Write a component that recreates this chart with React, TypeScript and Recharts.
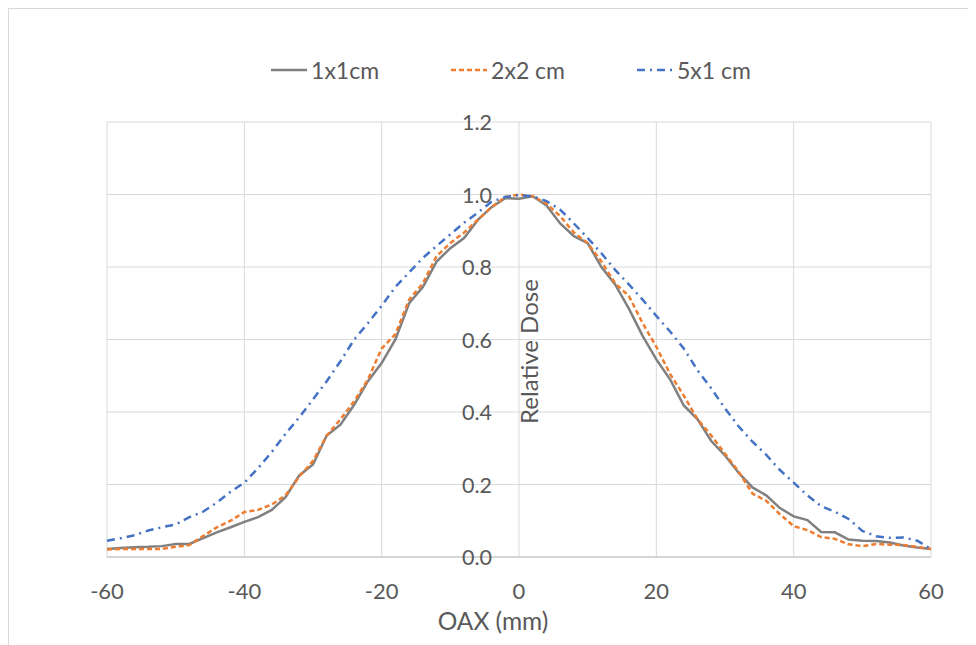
import { LineChart, Line, XAxis, YAxis, CartesianGrid, Legend, Label } from 'recharts';

const oax = [
  -60, -58, -56, -54, -52, -50, -48, -46, -44, -42, -40, -38, -36, -34, -32, -30,
  -28, -26, -24, -22, -20, -18, -16, -14, -12, -10, -8, -6, -4, -2, 0,
  2, 4, 6, 8, 10, 12, 14, 16, 18, 20, 22, 24, 26, 28, 30,
  32, 34, 36, 38, 40, 42, 44, 46, 48, 50, 52, 54, 56, 58, 60,
];

const field1x1 = [
  0.022, 0.025, 0.027, 0.028, 0.03, 0.036, 0.036, 0.052, 0.068, 0.082, 0.097, 0.11, 0.13, 0.165, 0.225, 0.255,
  0.335, 0.365, 0.42, 0.485, 0.535, 0.6, 0.7, 0.745, 0.815, 0.852, 0.88, 0.93, 0.965, 0.99, 0.988,
  0.995, 0.97, 0.92, 0.885, 0.866, 0.8, 0.752, 0.685, 0.61, 0.545, 0.49, 0.418, 0.38, 0.32, 0.28,
  0.232, 0.192, 0.17, 0.135, 0.112, 0.102, 0.069, 0.068, 0.048, 0.045, 0.044, 0.04, 0.032, 0.026, 0.022,
];

const field2x2 = [
  0.021, 0.022, 0.022, 0.022, 0.022, 0.028, 0.033, 0.058, 0.082, 0.1, 0.124, 0.13, 0.145, 0.17, 0.222, 0.265,
  0.335, 0.38, 0.43, 0.49, 0.575, 0.615, 0.71, 0.755, 0.83, 0.866, 0.895, 0.93, 0.965, 0.993, 1.0,
  0.995, 0.975, 0.94, 0.895, 0.866, 0.815, 0.755, 0.72, 0.645, 0.58, 0.505, 0.445, 0.38, 0.335, 0.285,
  0.235, 0.175, 0.155, 0.118, 0.085, 0.074, 0.055, 0.05, 0.035, 0.03, 0.036, 0.034, 0.033, 0.028, 0.022,
];

const field5x1 = [
  0.045, 0.052, 0.06, 0.073, 0.082, 0.09, 0.11, 0.125, 0.15, 0.18, 0.205, 0.245, 0.29, 0.34, 0.385, 0.435,
  0.485, 0.54, 0.6, 0.645, 0.693, 0.745, 0.785, 0.825, 0.858, 0.89, 0.922, 0.95, 0.98, 0.993, 0.998,
  0.995, 0.982, 0.958, 0.92, 0.88, 0.838, 0.792, 0.752, 0.71, 0.665, 0.622, 0.575, 0.515, 0.465, 0.41,
  0.36, 0.318, 0.282, 0.24, 0.205, 0.17, 0.14, 0.125, 0.105, 0.072, 0.057, 0.053, 0.054, 0.045, 0.022,
];

const xTicks = [-60, -40, -20, 0, 20, 40, 60];
const yTicks = [0, 0.2, 0.4, 0.6, 0.8, 1.0, 1.2];

const series = [
  { key: 'a', name: '1x1cm', color: '#808080', dash: undefined as string | undefined },
  { key: 'b', name: '2x2 cm', color: '#ED7D31', dash: '5 3' },
  { key: 'c', name: '5x1 cm', color: '#4472C4', dash: '8 5 2 5' },
];

const data = oax.map((x, i) => ({ x, a: field1x1[i], b: field2x2[i], c: field5x1[i] }));

const W = 967;
const H = 636;
// yaxis is 1px wide (a 0 width axis is not drawn), so left margin is 97
const M = { top: 113, right: 45, left: 97, bottom: 0 };
const Y_W = 1;
const PLOT_W = W - M.left - Y_W - M.right;
const ZERO_X = (PLOT_W * (0 - xTicks[0])) / (xTicks[xTicks.length - 1] - xTicks[0]);
const TEXT = '#595959';
const FONT = "Lato, 'Open Sans', sans-serif";

// tick x arrives at the plot's left edge; shift labels over to the 0 mm line
function YTick(props: any) {
  const { x, y, payload } = props;
  return (
    <text x={x + ZERO_X - 27} y={y} textAnchor="end" dominantBaseline="central" fill={TEXT} fontSize={21.5} fontFamily={FONT}>
      {Number(payload.value).toFixed(1)}
    </text>
  );
}

function XTick(props: any) {
  const { x, y, payload } = props;
  return (
    <text x={x} y={y + 33} textAnchor="middle" dominantBaseline="central" fill={TEXT} fontSize={22} fontFamily={FONT}>
      {payload.value}
    </text>
  );
}

function LegendBox() {
  return (
    <div style={{ display: 'flex', justifyContent: 'center', gap: 72, fontFamily: FONT, fontSize: 23, color: TEXT }}>
      {series.map((s) => (
        <div key={s.key} style={{ display: 'flex', alignItems: 'center' }}>
          <svg width={36} height={10} style={{ marginRight: 4 }}>
            <line x1={0} y1={5} x2={36} y2={5} stroke={s.color} strokeWidth={2.5} strokeDasharray={s.dash} />
          </svg>
          <span>{s.name}</span>
        </div>
      ))}
    </div>
  );
}

export default function App() {
  return (
    <div style={{ width: W, height: H, borderTop: '1px solid #d9d9d9', borderLeft: '1px solid #d9d9d9', fontFamily: FONT }}>
      <LineChart width={W} height={H} data={data} margin={M}>
        <CartesianGrid stroke="#d9d9d9" strokeWidth={1} verticalValues={xTicks} horizontalValues={yTicks} />
        <XAxis
          dataKey="x"
          type="number"
          domain={[-60, 60]}
          ticks={xTicks}
          height={88}
          tickSize={0}
          tickMargin={0}
          tickLine={false}
          stroke="#bfbfbf"
          tick={<XTick />}
        >
          <Label
            content={(p: any) => {
              const vb = p.viewBox;
              // excel centres this title a little left of the plot middle
              return (
                <text x={vb.x + vb.width / 2 - 26} y={vb.y + 63} textAnchor="middle" dominantBaseline="central" fill={TEXT} fontSize={24.5} fontFamily={FONT}>
                  OAX (mm)
                </text>
              );
            }}
          />
        </XAxis>
        <YAxis
          type="number"
          domain={[0, 1.2]}
          ticks={yTicks}
          width={Y_W}
          tickSize={0}
          tickMargin={0}
          axisLine={false}
          tickLine={false}
          tick={<YTick />}
        >
          <Label
            content={(p: any) => {
              const vb = p.viewBox;
              const cx = vb.x + vb.width + ZERO_X + 9;
              const cy = vb.y + vb.height / 2 + 12;
              return (
                <text x={cx} y={cy} transform={`rotate(-90 ${cx} ${cy})`} textAnchor="middle" dominantBaseline="central" fill={TEXT} fontSize={24} fontFamily={FONT}>
                  Relative Dose
                </text>
              );
            }}
          />
        </YAxis>
        <Legend
          verticalAlign="middle"
          align="center"
          content={<LegendBox />}
          wrapperStyle={{ top: 47, left: 90, width: PLOT_W }}
        />
        {series.map((s) => (
          <Line
            key={s.key}
            dataKey={s.key}
            name={s.name}
            stroke={s.color}
            strokeWidth={2.5}
            strokeDasharray={s.dash}
            dot={false}
            type="linear"
            isAnimationActive={false}
          />
        ))}
      </LineChart>
    </div>
  );
}
